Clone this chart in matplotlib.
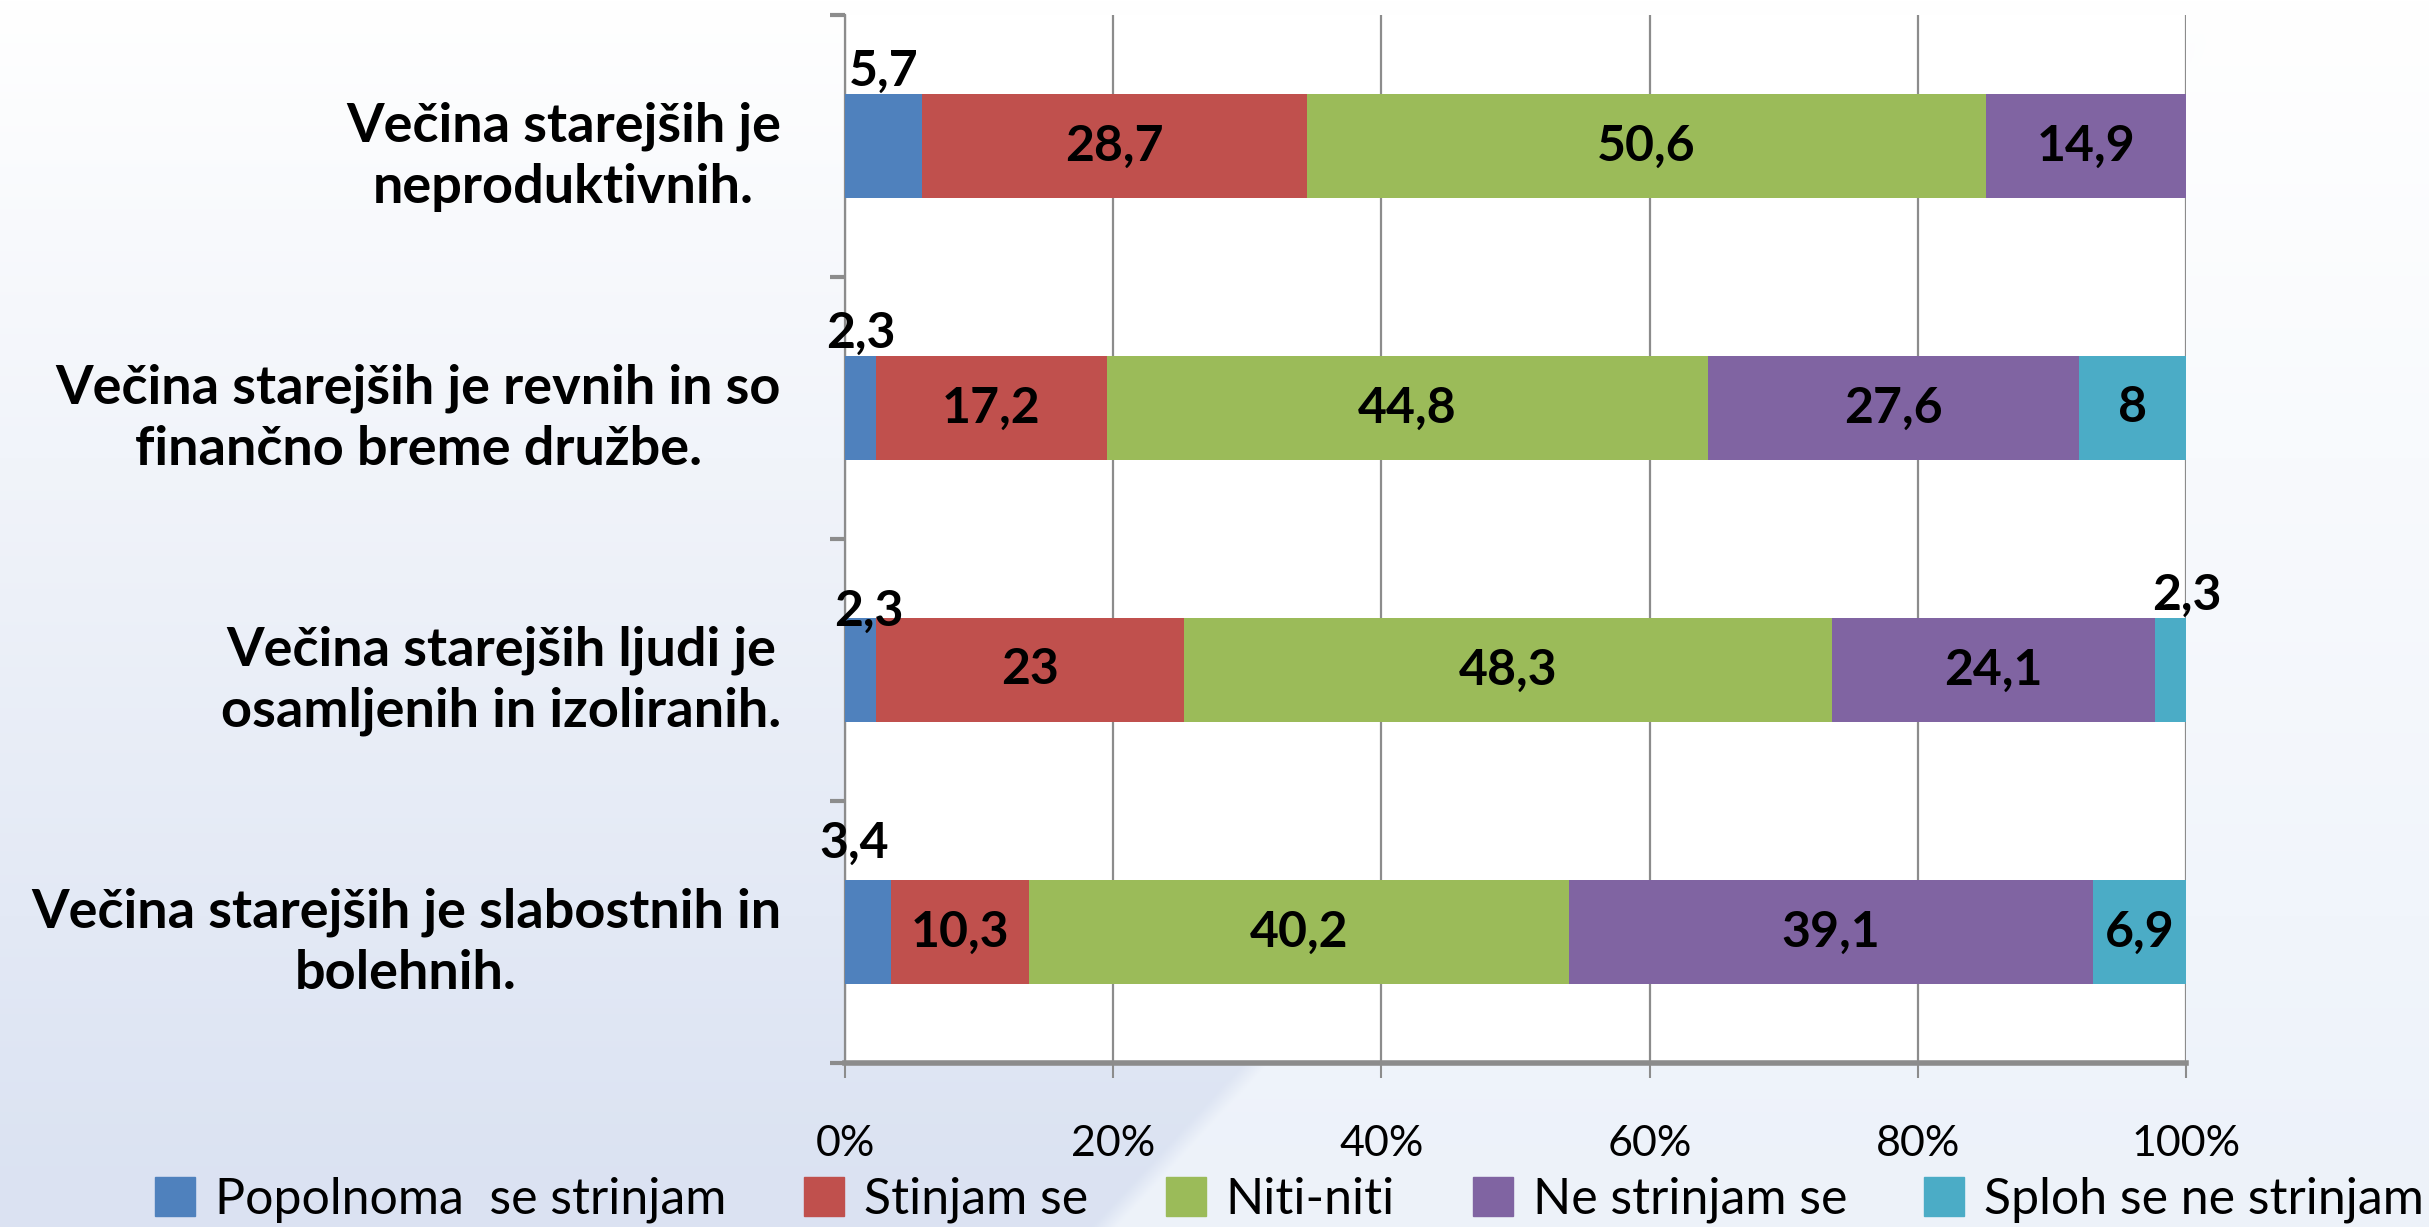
import matplotlib.pyplot as plt
import numpy as np
from matplotlib.patches import Patch

# categories, top to bottom
categories = [
    "Večina starejših je\nneproduktivnih.",
    "Večina starejših je revnih in so\nfinančno breme družbe.",
    "Večina starejših ljudi je\nosamljenih in izoliranih.",
    "Večina starejših je slabostnih in\nbolehnih.",
]
series = ["Popolnoma  se strinjam", "Stinjam se", "Niti-niti", "Ne strinjam se", "Sploh se ne strinjam"]
popolnoma = [5.7, 2.3, 2.3, 3.4]
strinjam = [28.7, 17.2, 23, 10.3]
niti = [50.6, 44.8, 48.3, 40.2]
ne_strinjam = [14.9, 27.6, 24.1, 39.1]
sploh = [0, 8, 2.3, 6.9]
x_ticks = [0, 20, 40, 60, 80, 100]

colors = ["#4F81BD", "#C0504D", "#9BBB59", "#8064A2", "#4BACC6"]
plt.rcParams["font.family"] = ["Lato", "DejaVu Sans"]

W, H = 2429, 1227
fig = plt.figure(figsize=(W / 100, H / 100), dpi=100)

# background: soft blue gradient on the left, lighter panel on the right
bg = fig.add_axes([0, 0, 1, 1])
yy, xx = np.mgrid[0:1:600j, 0:1:1200j]
t = np.clip(yy * 1.05, 0, 1)[..., None]
img = np.array([1.0, 1.0, 1.0]) * (1 - t) + np.array([0.86, 0.89, 0.95]) * t
edge = 0.92 - (0.92 - 0.45) * yy  # diagonal edge of the light panel
w = np.clip((xx - edge) / 0.01, 0, 1)[..., None]
light = np.array([1.0, 1.0, 1.0]) * (1 - t) + np.array([0.93, 0.95, 0.98]) * t
img = img * (1 - w) + light * w
bg.imshow(img, extent=[0, 1, 0, 1], aspect="auto", origin="upper")
bg.axis("off")

ax = fig.add_axes([845 / W, 1 - 1063 / H, (2186 - 845) / W, (1063 - 15) / H])
ax.set_facecolor("white")

data = np.array([popolnoma, strinjam, niti, ne_strinjam, sploh], dtype=float)
pct = data / data.sum(axis=0) * 100
ypos = np.arange(len(categories))
left = np.zeros(len(categories))

# manual label nudges (points) for labels placed above the bar
nudge = {(2, 0): (6, -12), (2, 4): (12, 0), (3, 0): (-10, 10)}

for s in range(len(series)):
    ax.barh(ypos, pct[s], left=left, height=0.4, color=colors[s], zorder=3)
    for i in range(len(categories)):
        v = data[s, i]
        if v == 0:
            continue
        lab = ("%g" % v).replace(".", ",")
        cx = left[i] + pct[s, i] / 2
        if v < 6:
            dx, dy = nudge.get((i, s), (0, 0))
            ax.annotate(lab, (cx, ypos[i] - 0.2), xytext=(dx, dy), textcoords="offset points",
                        ha="center", va="bottom", fontsize=36, fontweight="bold", zorder=4)
        else:
            ax.text(cx, ypos[i], lab, ha="center", va="center", fontsize=36,
                    fontweight="bold", zorder=4)
    left += pct[s]

ax.set_xlim(0, 100)
ax.set_ylim(3.5, -0.5)
ax.set_xticks(x_ticks)
ax.set_xticklabels([f"{v}%" for v in x_ticks], fontsize=31)
ax.tick_params(axis="x", length=11, width=1.5, color="#8c8c8c", pad=34)
ax.grid(axis="x", color="#8c8c8c", linewidth=1.6, zorder=1)

ax.set_yticks(ypos)
ax.set_yticklabels(categories, fontsize=39, fontweight="bold", multialignment="center")
for tl in ax.get_yticklabels():
    tl.set_linespacing(1.3)
ax.tick_params(axis="y", length=0, pad=46)
ax.set_yticks(np.arange(-0.5, len(categories)), minor=True)
ax.tick_params(axis="y", which="minor", length=11, width=3, color="#8c8c8c")

for sp in ["top", "right"]:
    ax.spines[sp].set_visible(False)
ax.spines["left"].set_color("#8c8c8c")
ax.spines["left"].set_linewidth(1.6)
ax.spines["bottom"].set_color("#8c8c8c")
ax.spines["bottom"].set_linewidth(4)
ax.spines["bottom"].set_zorder(5)

handles = [Patch(color=c) for c in colors]
fig.legend(handles, series, loc="center", bbox_to_anchor=(0.531, 1 - 1200 / H), ncol=5,
           frameon=False, fontsize=36, handlelength=0.8, handleheight=0.8,
           handletextpad=0.4, columnspacing=1.55, borderpad=0)

fig.savefig("out.png", dpi=100)
